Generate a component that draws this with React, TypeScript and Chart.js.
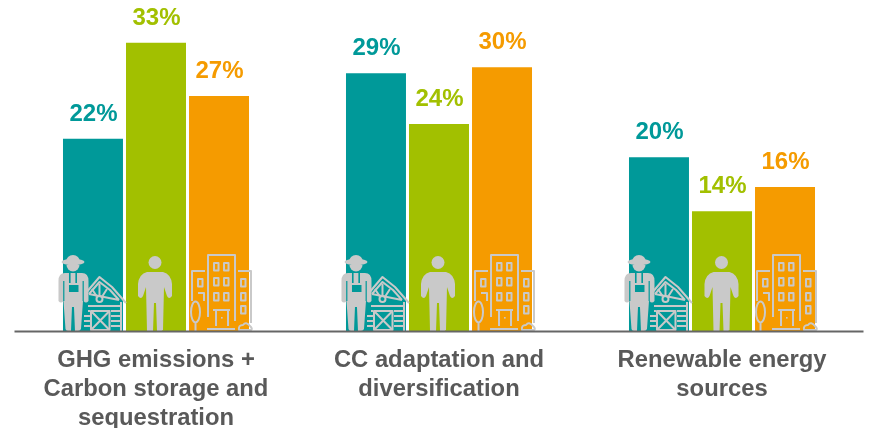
import React, { useEffect, useRef } from "react";
import { Chart, registerables } from "chart.js";

Chart.register(...registerables);

const categories = [
  ["GHG emissions +", "Carbon storage and", "sequestration"],
  ["CC adaptation and", "diversification"],
  ["Renewable energy", "sources"],
];
const farmerHeights = [22, 29.5, 19.9];
const peopleHeights = [33, 23.7, 13.7];
const cityHeights = [26.9, 30.2, 16.5];
const farmerLabels = ["22%", "29%", "20%"];
const peopleLabels = ["33%", "24%", "14%"];
const cityLabels = ["27%", "30%", "16%"];
const seriesColors = ["#009999", "#A2C000", "#F59B00"];
const iconNudge = [
  [0, 0, 0],
  [-4, -4, -3.5],
  [0, 0, -1],
];
const ICON = "#c9c9c9";

function farmer(c: CanvasRenderingContext2D, x: number, y: number) {
  c.save();
  c.translate(x, y);
  // barn
  c.strokeStyle = ICON;
  c.lineWidth = 2;
  c.lineJoin = "round";
  c.beginPath();
  c.moveTo(-8, -37);
  c.lineTo(6.5, -54);
  c.lineTo(19, -44);
  c.lineTo(33, -28);
  c.moveTo(-4, -37);
  c.lineTo(6.5, -49);
  c.lineTo(17, -41);
  c.lineTo(26, -31);
  c.moveTo(-4, -37);
  c.lineTo(26, -31);
  c.moveTo(28, -29);
  c.lineTo(28, 0);
  c.moveTo(-5, -25);
  c.lineTo(28, -25);
  c.moveTo(-5, -20);
  c.lineTo(-3, -20);
  c.moveTo(18, -20);
  c.lineTo(28, -20);
  c.moveTo(-9, -15);
  c.lineTo(-3, -15);
  c.moveTo(18, -15);
  c.lineTo(28, -15);
  c.moveTo(-9, -10);
  c.lineTo(-3, -10);
  c.moveTo(18, -10);
  c.lineTo(28, -10);
  c.moveTo(-9, -5);
  c.lineTo(-3, -5);
  c.moveTo(18, -5);
  c.lineTo(28, -5);
  c.stroke();
  c.strokeRect(-2, -20, 18.5, 19);
  c.beginPath();
  c.moveTo(-2, -20);
  c.lineTo(16.5, -1);
  c.moveTo(16.5, -20);
  c.lineTo(-2, -1);
  c.moveTo(6.5, -36);
  c.lineTo(6.5, -47);
  c.moveTo(3.5, -35);
  c.lineTo(-1, -42);
  c.moveTo(9.5, -35);
  c.lineTo(14, -42);
  c.stroke();
  c.beginPath();
  c.arc(6.5, -32, 3, 0, Math.PI * 2);
  c.stroke();
  // man
  c.fillStyle = ICON;
  c.beginPath();
  c.ellipse(-20, -69, 11.5, 3.2, 0, 0, Math.PI * 2);
  c.fill();
  c.beginPath();
  c.arc(-20, -69, 7, Math.PI, 0);
  c.fill();
  c.beginPath();
  c.arc(-20, -66, 6.5, 0, Math.PI);
  c.fill();
  c.beginPath();
  c.moveTo(-34.5, -50);
  c.quadraticCurveTo(-34.5, -58, -28, -58);
  c.lineTo(-11, -58);
  c.quadraticCurveTo(-4.5, -58, -4.5, -50);
  c.lineTo(-4.5, -30);
  c.quadraticCurveTo(-7, -27, -9.5, -30);
  c.lineTo(-10, -30);
  c.lineTo(-12, -2);
  c.quadraticCurveTo(-13, 0, -15, 0);
  c.lineTo(-18, 0);
  c.lineTo(-19, -24);
  c.lineTo(-21, -24);
  c.lineTo(-22, 0);
  c.lineTo(-25, 0);
  c.quadraticCurveTo(-27, 0, -27.5, -2);
  c.lineTo(-29.5, -30);
  c.quadraticCurveTo(-32, -27, -34.5, -30);
  c.closePath();
  c.fill();
  c.fillStyle = seriesColors[0];
  c.fillRect(-24, -58, 1.6, 10);
  c.fillRect(-17.6, -58, 1.6, 10);
  c.fillRect(-24, -46, 9.5, 7);
  c.fillRect(-29.8, -50, 1.2, 20);
  c.fillRect(-10.4, -50, 1.2, 20);
  c.restore();
}

function person(c: CanvasRenderingContext2D, x: number, y: number) {
  c.save();
  c.translate(x, y);
  c.fillStyle = ICON;
  c.beginPath();
  c.arc(3, -68.5, 6.5, 0, Math.PI * 2);
  c.fill();
  c.beginPath();
  c.moveTo(-5, -59);
  c.lineTo(11, -59);
  c.quadraticCurveTo(19, -57, 20, -47);
  c.lineTo(20, -35);
  c.quadraticCurveTo(17, -31, 15, -35);
  c.lineTo(12, -44);
  c.lineTo(11, -1);
  c.quadraticCurveTo(8, 2, 5, 0);
  c.lineTo(4, -28);
  c.lineTo(2, -28);
  c.lineTo(1, 0);
  c.quadraticCurveTo(-2, 2, -5, 0);
  c.lineTo(-6, -44);
  c.lineTo(-9, -35);
  c.quadraticCurveTo(-11, -31, -14, -35);
  c.lineTo(-14, -47);
  c.quadraticCurveTo(-13, -57, -5, -59);
  c.closePath();
  c.fill();
  c.restore();
}

function city(c: CanvasRenderingContext2D, x: number, y: number) {
  c.save();
  c.translate(x, y);
  c.strokeStyle = ICON;
  c.lineWidth = 2;
  c.lineJoin = "round";
  c.beginPath();
  c.moveTo(-11, -14);
  c.lineTo(-11, -76);
  c.lineTo(16, -76);
  c.lineTo(16, -10);
  c.moveTo(19, -60);
  c.lineTo(32, -60);
  c.lineTo(32, -8);
  c.moveTo(-14, -60);
  c.lineTo(-27, -60);
  c.lineTo(-27, -30);
  c.moveTo(-21, -38);
  c.lineTo(-15, -38);
  c.lineTo(-15, -30);
  c.moveTo(-12, -2);
  c.lineTo(16, -2);
  c.moveTo(-6, -21);
  c.lineTo(11, -21);
  c.moveTo(-3, -21);
  c.lineTo(-3, -5);
  c.moveTo(9, -21);
  c.lineTo(9, -5);
  c.stroke();
  const rects = [
    [-5, -68], [5, -68],
    [-5, -53], [5, -53],
    [-5, -38], [5, -38],
    [-21, -52],
    [22, -52], [22, -38], [22, -25],
  ];
  rects.forEach(([a, b]) => c.strokeRect(a, b, 4.5, 7.5));
  c.beginPath();
  c.ellipse(-23.5, -19, 4.5, 10.5, 0, 0, Math.PI * 2);
  c.moveTo(-23.5, -9);
  c.lineTo(-23.5, 0);
  c.moveTo(20, -1);
  c.quadraticCurveTo(19, -6, 24, -6);
  c.quadraticCurveTo(27, -10, 31, -5);
  c.quadraticCurveTo(34, -2, 32, -1);
  c.closePath();
  c.stroke();
  c.fillStyle = ICON;
  c.fillRect(2, -14, 1.6, 1.6);
  c.restore();
}

const decorations = {
  id: "decorations",
  afterDatasetsDraw(chart: any) {
    const c = chart.ctx;
    const draws = [farmer, person, city];
    const labels = [farmerLabels, peopleLabels, cityLabels];
    const base = chart.scales.y.getPixelForValue(0);
    chart.data.datasets.forEach((_: any, d: number) => {
      chart.getDatasetMeta(d).data.forEach((bar: any, i: number) => {
        draws[d](c, bar.x + iconNudge[d][i], base);
        c.save();
        c.fillStyle = seriesColors[d];
        c.font = 'bold 24px "Liberation Sans", Arial, sans-serif';
        c.textAlign = "center";
        c.textBaseline = "alphabetic";
        c.fillText(labels[d][i], bar.x + 0.5, bar.y - 18);
        c.restore();
      });
    });
    c.save();
    c.strokeStyle = "#666666";
    c.lineWidth = 2;
    c.beginPath();
    c.moveTo(chart.chartArea.left, base + 0.5);
    c.lineTo(chart.chartArea.right, base + 0.5);
    c.stroke();
    c.restore();
  },
};

export default function App() {
  const ref = useRef<HTMLCanvasElement>(null);
  useEffect(() => {
    const chart = new Chart(ref.current!, {
      type: "bar",
      data: {
        labels: categories as any,
        datasets: [
          { label: "Farmers", data: farmerHeights, backgroundColor: seriesColors[0] },
          { label: "People", data: peopleHeights, backgroundColor: seriesColors[1] },
          { label: "Cities", data: cityHeights, backgroundColor: seriesColors[2] },
        ],
      },
      options: {
        animation: false,
        responsive: false,
        layout: { padding: { left: 14.5, right: 6.5, top: 0, bottom: 0 } },
        plugins: { legend: { display: false }, tooltip: { enabled: false } },
        datasets: { bar: { categoryPercentage: 0.668, barPercentage: 0.952 } },
        scales: {
          x: {
            grid: { display: false, drawTicks: false },
            border: { display: false },
            afterFit: (s: any) => {
              s.height = 97;
            },
            ticks: {
              color: "#595959",
              padding: 15,
              maxRotation: 0,
              autoSkip: false,
              font: { family: '"Liberation Sans", Arial, sans-serif', size: 23.8, weight: "bold", lineHeight: 1.22 },
            },
          },
          y: { display: false, min: 0, max: 37.9 },
        },
      },
      plugins: [decorations],
    } as any);
    return () => chart.destroy();
  }, []);
  return (
    <canvas
      ref={ref}
      width={870}
      height={428}
      style={{ position: "absolute", left: 0, top: 0, width: 870, height: 428 }}
    />
  );
}
